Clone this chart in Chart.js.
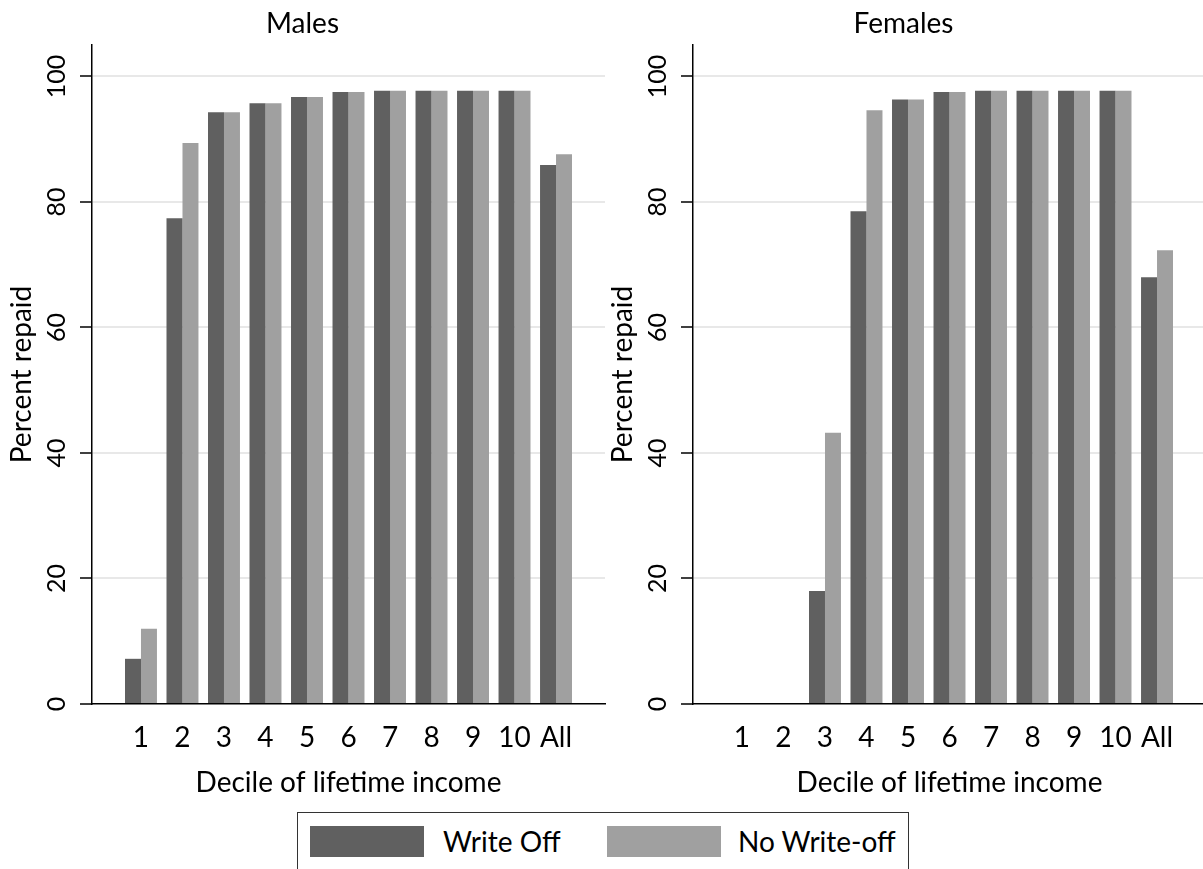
<!DOCTYPE html>
<html>
<head>
<meta charset="utf-8">
<title>Percent repaid by decile of lifetime income</title>
<script src="https://cdn.jsdelivr.net/npm/chart.js@4"></script>
<style>
  html, body { margin: 0; padding: 0; background: #fff; }
  body { position: relative; width: 1203px; height: 869px; overflow: hidden; font-family: Lato, sans-serif; }
  canvas { position: absolute; top: 0; }
  #males { left: 0; }
  #females { left: 601px; }
  #legend { position: absolute; left: 297px; top: 812px; width: 612px; height: 80px; border: 1px solid #333; box-sizing: border-box; }
  .swatch { position: absolute; top: 13px; width: 114px; height: 31px; }
  .lbl { position: absolute; top: 13px; height: 31px; line-height: 31px; font-size: 28px; color: #000; }
</style>
</head>
<body>
<canvas id="males" width="615" height="800"></canvas>
<canvas id="females" width="615" height="800"></canvas>
<div id="legend">
  <div class="swatch" style="left:12px; background:#606060"></div>
  <div class="lbl" style="left:145px">Write Off</div>
  <div class="swatch" style="left:309px; background:#a0a0a0"></div>
  <div class="lbl" style="left:440px">No Write-off</div>
</div>
<script>
const FONT = 'Lato';
const DARK = '#606060';
const LIGHT = '#a0a0a0';

// data
const categories = ['1', '2', '3', '4', '5', '6', '7', '8', '9', '10', 'All'];
const malesWriteOff   = [7.2, 77.4, 94.3, 95.7, 96.7, 97.5, 97.7, 97.7, 97.7, 97.7, 85.9];
const malesNoWriteOff = [12.0, 89.4, 94.3, 95.7, 96.7, 97.5, 97.7, 97.7, 97.7, 97.7, 87.6];
const femalesWriteOff   = [0, 0, 18.0, 78.5, 96.3, 97.5, 97.7, 97.7, 97.7, 97.7, 68.0];
const femalesNoWriteOff = [0, 0, 43.2, 94.6, 96.3, 97.5, 97.7, 97.7, 97.7, 97.7, 72.3];
const yTicks = [0, 20, 40, 60, 80, 100];

// stata leaves a gap of ~1.18 bar groups at each end of the x axis
const X_MIN = -0.18;
const X_MAX = categories.length + 1.18;

const toPoints = vals => vals.map((v, i) => ({ x: i + 1, y: v }));

// chart.js won't rotate y tick labels nicely, so draw them here
const rotatedYTicks = {
    id: 'rotatedYTicks',
    afterDraw(chart) {
        const scale = chart.scales.y;
        const ctx = chart.ctx;
        ctx.save();
        ctx.fillStyle = '#000';
        ctx.font = `25px ${FONT}`;
        ctx.textAlign = 'center';
        ctx.textBaseline = 'middle';
        scale.ticks.forEach(t => {
            ctx.save();
            ctx.translate(scale.right - 35, scale.getPixelForValue(t.value));
            ctx.rotate(-Math.PI / 2);
            ctx.fillText(String(t.value), 0, 0);
            ctx.restore();
        });
        ctx.restore();
    }
};

function makePanel(id, title, writeOff, noWriteOff) {
    return new Chart(document.getElementById(id), {
        type: 'bar',
        data: {
            datasets: [
                { label: 'Write Off', data: toPoints(writeOff), backgroundColor: DARK, borderWidth: 0 },
                { label: 'No Write-off', data: toPoints(noWriteOff), backgroundColor: LIGHT, borderWidth: 0 }
            ]
        },
        options: {
            responsive: false,
            animation: false,
            layout: { padding: { left: 0, right: 10, top: 0, bottom: 0 } },
            datasets: { bar: { barPercentage: 1, categoryPercentage: 0.77 } },
            plugins: {
                legend: { display: false },
                tooltip: { enabled: false },
                title: {
                    display: true,
                    text: title,
                    color: '#000',
                    font: { family: FONT, size: 28, weight: 'normal', lineHeight: 1.2 },
                    padding: { top: 7.2, bottom: 4.2 }
                }
            },
            scales: {
                x: {
                    type: 'linear',
                    min: X_MIN,
                    max: X_MAX,
                    offset: false,
                    afterBuildTicks: s => { s.ticks = categories.map((c, i) => ({ value: i + 1 })); },
                    afterFit: s => { s.height = 96; },
                    grid: { display: false, drawTicks: false },
                    border: { display: true, color: '#000', width: 1.5 },
                    ticks: {
                        callback: v => categories[v - 1],
                        color: '#000',
                        font: { family: FONT, size: 28, lineHeight: 1.2 },
                        padding: 17,
                        maxRotation: 0,
                        autoSkip: false
                    },
                    title: {
                        display: true,
                        text: 'Decile of lifetime income',
                        color: '#000',
                        font: { family: FONT, size: 28, lineHeight: 1.2 },
                        padding: { top: 0, bottom: 0 }
                    }
                },
                y: {
                    min: 0,
                    max: 105,
                    afterFit: s => { s.width = 92; },
                    afterBuildTicks: s => { s.ticks = yTicks.map(v => ({ value: v })); },
                    ticks: { display: false },
                    grid: {
                        color: c => (c.tick && c.tick.value === 0) ? 'rgba(0,0,0,0)' : '#e8e8e8',
                        lineWidth: 2,
                        tickLength: 12,
                        tickColor: '#000',
                        tickWidth: 1.5
                    },
                    border: { display: true, color: '#000', width: 1.5 },
                    title: {
                        display: true,
                        text: 'Percent repaid',
                        color: '#000',
                        font: { family: FONT, size: 28, lineHeight: 1.2 },
                        padding: { top: 5, bottom: 0 }
                    }
                }
            }
        },
        plugins: [rotatedYTicks]
    });
}

makePanel('males', 'Males', malesWriteOff, malesNoWriteOff);
makePanel('females', 'Females', femalesWriteOff, femalesNoWriteOff);
</script>
</body>
</html>
